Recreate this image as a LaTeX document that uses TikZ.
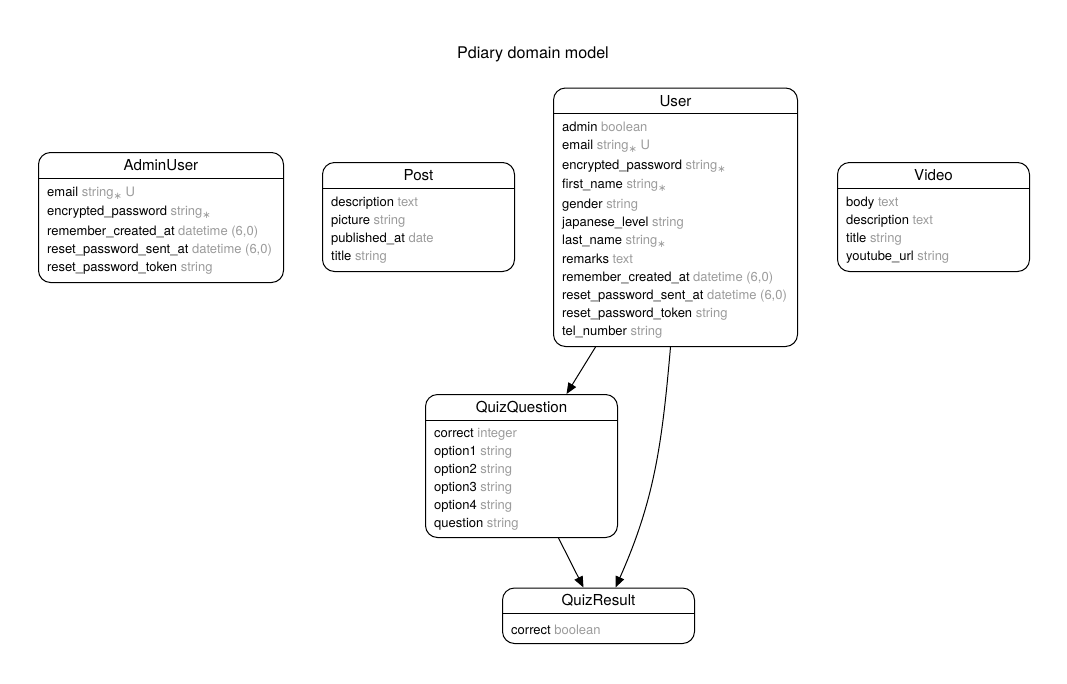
\documentclass[tikz,border=0pt]{standalone}
\usepackage{fontspec}
\setmainfont{TeX Gyre Heros}
\newfontfamily\symfont{DejaVu Sans}
\usetikzlibrary{positioning, arrows.meta, calc}
\definecolor{typegray}{HTML}{9B9B9B}
\newcommand{\ty}[1]{\textcolor{typegray}{#1}}
\newcommand{\nn}{\textcolor{typegray}{\raisebox{-3pt}{\symfont\fontsize{10}{10}\selectfont ∗}}}

\begin{document}
\begin{tikzpicture}[%
		x=1pt, y=-1pt,
		entity/.style={
			rectangle,
			rounded corners=12pt,
			line width=1pt,
			anchor=north west,
			inner sep=0pt,
			draw
		},
		smallbox/.style={
			minimum width=192pt
		},
		header/.style={
			anchor=north,
			minimum height=26pt,
			inner sep=0pt,
			font=\fontsize{15.1}{17}\selectfont
		},
		attrs/.style={
			anchor=north west,
			align=left,
			inner sep=0pt,
			font=\fontsize{13}{18}\selectfont,
			execute at begin node=\strut
		},
		heading/.style={
			font=\fontsize{16.1}{18}\selectfont
		},
		relation/.style={
			line width=1pt,
			-{Triangle[length=11pt,width=9pt]}
		}]

		\useasboundingbox (0,0) rectangle (1067,683);

		\node (title) [heading] at (533,54) {Pdiary domain model};

		% ENTITIES

		\node (AdminUser) [entity, minimum width=245pt, minimum height=130pt] at (38,152) {};
		\node (Post) [entity, smallbox, minimum height=109pt] at (322,162) {};
		\node (User) [entity, minimum width=244pt, minimum height=258.5pt] at (553,87.5) {};
		\node (Video) [entity, smallbox, minimum height=109pt] at (837,162) {};
		\node (QuizQuestion) [entity, smallbox, minimum height=143pt] at (425,394) {};
		\node (QuizResult) [entity, smallbox, minimum height=55.5pt] at (502,587.5) {};

		\foreach \e in {AdminUser,Post,User,Video,QuizQuestion,QuizResult} {
			\node (\e-title) [header] at (\e.north) {\e};
			\draw[line width=1pt] (\e.west |- \e-title.south) -- (\e.east |- \e-title.south);
		}

		% ATTRIBUTES

		\node (AdminUser-attrs) [attrs] at ($(AdminUser.west |- AdminUser-title.south)+(9,8)$) {%
			email \ty{string}\nn\ \ty{U}\\[1.5pt]
			encrypted\_password \ty{string}\nn\\[1.5pt]
			remember\_created\_at \ty{datetime (6,0)}\\
			reset\_password\_sent\_at \ty{datetime (6,0)}\\
			reset\_password\_token \ty{string}};

		\node (Post-attrs) [attrs] at ($(Post.west |- Post-title.south)+(9,8)$) {%
			description \ty{text}\\
			picture \ty{string}\\
			published\_at \ty{date}\\
			title \ty{string}};

		\node (User-attrs) [attrs] at ($(User.west |- User-title.south)+(9,8)$) {%
			admin \ty{boolean}\\
			email \ty{string}\nn\ \ty{U}\\[1.5pt]
			encrypted\_password \ty{string}\nn\\[1.5pt]
			first\_name \ty{string}\nn\\[1.5pt]
			gender \ty{string}\\
			japanese\_level \ty{string}\\
			last\_name \ty{string}\nn\\[1.5pt]
			remarks \ty{text}\\
			remember\_created\_at \ty{datetime (6,0)}\\
			reset\_password\_sent\_at \ty{datetime (6,0)}\\
			reset\_password\_token \ty{string}\\
			tel\_number \ty{string}};

		\node (Video-attrs) [attrs] at ($(Video.west |- Video-title.south)+(9,8)$) {%
			body \ty{text}\\
			description \ty{text}\\
			title \ty{string}\\
			youtube\_url \ty{string}};

		\node (QuizQuestion-attrs) [attrs] at ($(QuizQuestion.west |- QuizQuestion-title.south)+(9,8)$) {%
			correct \ty{integer}\\
			option1 \ty{string}\\
			option2 \ty{string}\\
			option3 \ty{string}\\
			option4 \ty{string}\\
			question \ty{string}};

		\node (QuizResult-attrs) [attrs] at ($(QuizResult.west |- QuizResult-title.south)+(9,8)$) {%
			correct \ty{boolean}};

		% RELATIONS

		\draw[relation] ([xshift=-80]User.south) -- ([xshift=45]QuizQuestion.north);
		\draw[relation] ([xshift=-5]User.south) to[out=-95, in=66] ([xshift=17]QuizResult.north);
		\draw[relation] ([xshift=37]QuizQuestion.south) -- ([xshift=-15]QuizResult.north);
\end{tikzpicture}
\end{document}
